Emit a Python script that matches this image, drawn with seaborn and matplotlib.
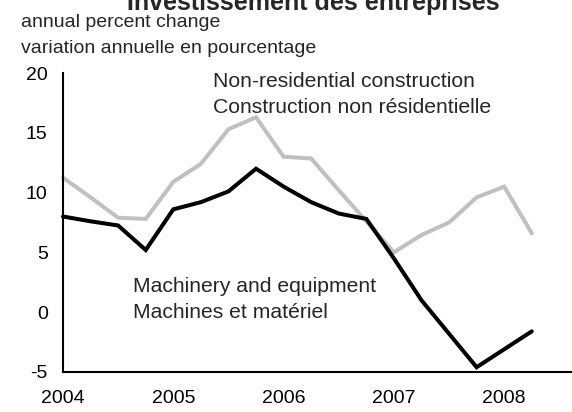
import pandas as pd
import numpy as np
import matplotlib
matplotlib.use("Agg")
import matplotlib.pyplot as plt
import seaborn as sns

sns.set_style("white")
plt.rcParams['font.family'] = ['Liberation Sans', 'DejaVu Sans']
plt.rcParams['axes.unicode_minus'] = False

# quarterly data, 2004Q1 - 2008Q2
quarters = [2004 + i / 4 for i in range(18)]
machinery = [8.0, 7.6, 7.25, 5.2, 8.6, 9.2, 10.1, 12.0,
             10.5, 9.2, 8.25, 7.8, 4.5, 1.0, -1.8, -4.6, -3.1, -1.6]
construction = [11.25, 9.6, 7.9, 7.8, 10.9, 12.4, 15.3, 16.3,
                13.0, 12.85, 10.2, 7.6, 5.0, 6.45, 7.5, 9.6, 10.5, 6.6]
year_ticks = [2004, 2005, 2006, 2007, 2008]
y_ticks = [-5, 0, 5, 10, 15, 20]

df = pd.DataFrame({
    "date": quarters * 2,
    "value": machinery + construction,
    "series": ["mach"] * len(machinery) + ["cons"] * len(construction),
})

fig = plt.figure(figsize=(5.72, 4.12), dpi=100)
ax = fig.add_axes([63 / 572, 40 / 412, (572 - 63) / 572, 299 / 412])

sns.lineplot(data=df, x="date", y="value", hue="series",
             palette={"mach": "black", "cons": "#c0c0c0"},
             hue_order=["cons", "mach"], linewidth=2.9, legend=False, ax=ax)
for line in ax.get_lines():
    line.set_solid_joinstyle("miter")
    line.set_clip_on(False)

ax.set_xlim(2004, 2004 + 509 / 110.3)
ax.set_ylim(-5, 20)
ax.set_xticks(year_ticks)
ax.set_xticklabels([str(y) for y in year_ticks])
ax.set_yticks(y_ticks)
ax.set_xlabel("")
ax.set_ylabel("")

for s in ["top", "right"]:
    ax.spines[s].set_visible(False)
for s in ["left", "bottom"]:
    ax.spines[s].set_linewidth(1.5)
    ax.spines[s].set_color("black")

ax.tick_params(axis="both", direction="in", length=6, width=1.5,
               labelsize=14, colors="black")
ax.tick_params(axis="y", pad=11)
ax.tick_params(axis="x", pad=13)

# labels on the lines, one text per line of text
ax.text(2005.36, 18.8, "Non-residential construction", fontsize=15.2, va="baseline")
ax.text(2005.36, 16.65, "Construction non résidentielle", fontsize=15.2, va="baseline")
ax.text(2004.635, 1.68, "Machinery and equipment", fontsize=15.2, va="baseline")
ax.text(2004.635, -0.5, "Machines et matériel", fontsize=15.2, va="baseline")

fig.text(21 / 572, 1 - 27 / 412, "annual percent change", fontsize=14,
         va="baseline", ha="left")
fig.text(21 / 572, 1 - 53 / 412, "variation annuelle en pourcentage", fontsize=14,
         va="baseline", ha="left")
fig.text(313 / 572, 1 - 10 / 412, "Investissement des entreprises", fontsize=18,
         fontweight="bold", va="baseline", ha="center")

fig.savefig("out.png", dpi=100)
